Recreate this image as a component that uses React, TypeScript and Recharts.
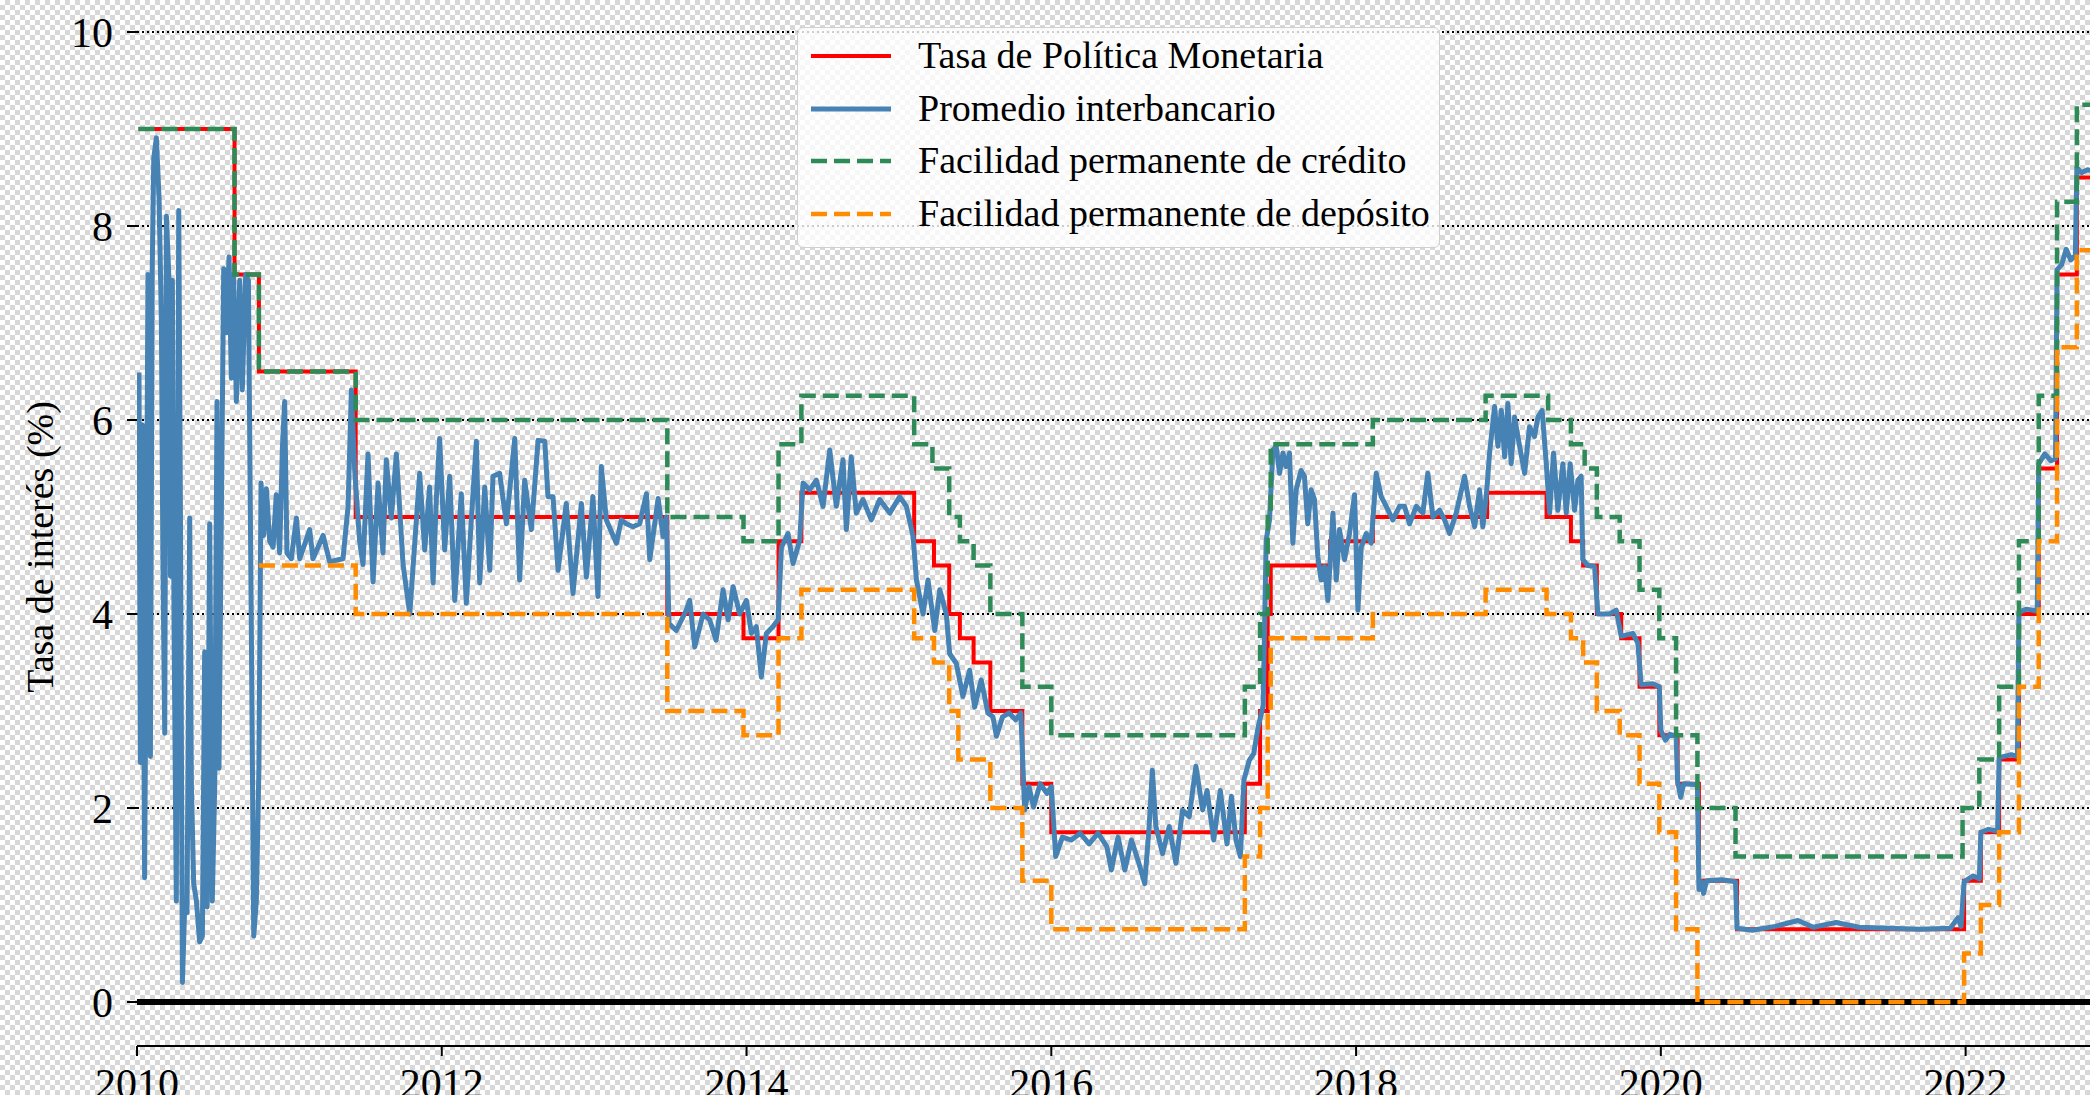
import { LineChart, Line, XAxis, YAxis, CartesianGrid, ReferenceLine } from "recharts";

// Tasa de Política Monetaria (step changes, decimal year)
const tpmDates = [2010.01, 2010.64, 2010.8, 2011.435, 2013.48, 2013.98, 2014.21, 2014.36, 2015.1, 2015.23, 2015.33, 2015.4, 2015.49, 2015.6, 2015.81, 2016.0, 2017.27, 2017.37, 2017.42, 2017.44, 2017.83, 2018.11, 2018.86, 2019.25, 2019.41, 2019.49, 2019.58, 2019.74, 2019.86, 2019.99, 2020.11, 2020.25, 2020.5, 2021.99, 2022.1, 2022.22, 2022.35, 2022.48, 2022.6, 2022.73, 2022.95];
const tpmValues = [9, 7.5, 6.5, 5, 4, 3.75, 4.75, 5.25, 4.75, 4.5, 4, 3.75, 3.5, 3, 2.25, 1.75, 2.25, 3, 4, 4.5, 4.75, 5, 5.25, 5, 4.75, 4.5, 4, 3.75, 3.25, 2.75, 2.25, 1.25, 0.75, 1.25, 1.75, 2.5, 4, 5.5, 7.5, 8.5, 8.5];

// Facilidad permanente de crédito
const creditDates = [2010.01, 2010.64, 2010.8, 2011.435, 2013.48, 2013.98, 2014.21, 2014.36, 2015.1, 2015.22, 2015.33, 2015.4, 2015.49, 2015.6, 2015.81, 2016.0, 2017.27, 2017.37, 2017.42, 2017.44, 2018.11, 2018.85, 2019.26, 2019.41, 2019.5, 2019.58, 2019.73, 2019.86, 2019.99, 2020.1, 2020.24, 2020.49, 2021.98, 2022.09, 2022.22, 2022.35, 2022.48, 2022.6, 2022.73, 2022.95];
const creditValues = [9, 7.5, 6.5, 6, 5, 4.75, 5.75, 6.25, 5.75, 5.5, 5, 4.75, 4.5, 4, 3.25, 2.75, 3.25, 4, 5, 5.75, 6, 6.25, 6, 5.75, 5.5, 5, 4.75, 4.25, 3.75, 2.75, 2, 1.5, 2, 2.5, 3.25, 4.75, 6.25, 8.25, 9.25, 9.25];

// Facilidad permanente de depósito
const depositDates = [2010.8, 2011.435, 2013.48, 2013.98, 2014.21, 2014.36, 2015.1, 2015.23, 2015.33, 2015.39, 2015.6, 2015.81, 2016.0, 2017.27, 2017.37, 2017.42, 2017.44, 2018.11, 2018.85, 2019.25, 2019.41, 2019.49, 2019.58, 2019.73, 2019.86, 2019.99, 2020.1, 2020.24, 2021.99, 2022.1, 2022.22, 2022.35, 2022.48, 2022.6, 2022.73, 2022.95];
const depositValues = [4.5, 4, 3, 2.75, 3.75, 4.25, 3.75, 3.5, 3, 2.5, 2, 1.25, 0.75, 1.5, 2, 3, 3.75, 4, 4.25, 4, 3.75, 3.5, 3, 2.75, 2.25, 1.75, 0.75, 0, 0.5, 1, 1.75, 3.25, 4.75, 6.75, 7.75, 7.75];

// Promedio interbancario
const interbank2010: [number, number][] = [
  [2010.013, 6.49], [2010.022, 2.47], [2010.035, 5.95], [2010.05, 1.28], [2010.06, 3.91], [2010.072, 7.5], [2010.088, 2.53], [2010.1, 7.56], [2010.11, 8.7], [2010.127, 8.91], [2010.145, 8.28], [2010.16, 7.02], [2010.17, 4.57], [2010.182, 2.77], [2010.193, 8.1], [2010.21, 7.44], [2010.22, 4.39], [2010.232, 7.44], [2010.243, 3.91], [2010.258, 1.04], [2010.274, 8.16], [2010.285, 5.05], [2010.298, 0.2], [2010.313, 0.98], [2010.328, 0.92], [2010.346, 4.99], [2010.357, 2.23], [2010.372, 1.22], [2010.39, 1.04], [2010.411, 0.62], [2010.429, 0.68], [2010.444, 3.61], [2010.46, 0.98], [2010.477, 4.93], [2010.494, 1.04], [2010.51, 2.23], [2010.525, 6.19], [2010.538, 2.41], [2010.554, 5.11], [2010.569, 7.56], [2010.586, 6.9], [2010.604, 7.68], [2010.619, 6.43], [2010.634, 7.5], [2010.652, 6.19], [2010.674, 7.44], [2010.691, 6.31], [2010.713, 7.5], [2010.731, 7.44], [2010.75, 3.91], [2010.766, 0.68], [2010.783, 1.04], [2010.8, 2.41], [2010.814, 5.35], [2010.831, 4.81], [2010.849, 5.29], [2010.871, 4.75], [2010.893, 4.69], [2010.914, 5.23], [2010.936, 4.63], [2010.954, 5.71], [2010.969, 6.19], [2010.984, 4.63],
  [2011.013, 4.57], [2011.046, 4.99], [2011.068, 4.57], [2011.133, 4.87], [2011.155, 4.57], [2011.221, 4.81], [2011.264, 4.54], [2011.352, 4.57], [2011.385, 5.11], [2011.407, 6.31], [2011.429, 5.47], [2011.461, 4.75], [2011.483, 4.51], [2011.516, 5.65], [2011.549, 4.33], [2011.582, 5.35], [2011.614, 4.63], [2011.636, 5.59], [2011.669, 4.99], [2011.702, 5.65], [2011.746, 4.51],
];
const interbank2012: [number, number][] = [
  [2011.79, 4.0], [2011.81, 4.45], [2011.855, 5.45], [2011.888, 4.66], [2011.92, 5.31], [2011.943, 4.32], [2011.965, 5.21], [2011.986, 5.81], [2012.019, 4.66], [2012.052, 5.42], [2012.085, 4.14], [2012.128, 5.24], [2012.161, 4.11], [2012.194, 4.97], [2012.227, 5.78], [2012.249, 4.32], [2012.282, 5.31], [2012.315, 4.45], [2012.336, 5.42], [2012.38, 5.45], [2012.424, 4.93], [2012.479, 5.81], [2012.511, 4.35], [2012.544, 5.38], [2012.588, 4.87], [2012.632, 5.79], [2012.676, 5.78], [2012.697, 5.21], [2012.73, 5.21], [2012.763, 4.45], [2012.817, 5.14], [2012.861, 4.21], [2012.916, 5.14], [2012.949, 4.38], [2012.992, 5.21],
  [2013.025, 4.18], [2013.047, 5.52], [2013.08, 4.97], [2013.146, 4.73], [2013.178, 4.97], [2013.211, 4.93], [2013.255, 4.9], [2013.299, 4.93], [2013.343, 5.24], [2013.365, 4.56], [2013.42, 5.19], [2013.452, 4.8], [2013.474, 5.0], [2013.491, 3.9], [2013.539, 3.83], [2013.605, 4.04],
];
const interbank2014: [number, number][] = [
  [2013.627, 4.14], [2013.66, 3.66], [2013.715, 4.0], [2013.758, 3.94], [2013.8, 3.73], [2013.846, 4.25], [2013.879, 3.94], [2013.912, 4.28], [2013.955, 4.0], [2013.999, 4.14], [2014.032, 3.8], [2014.064, 3.87], [2014.097, 3.35], [2014.13, 3.8], [2014.174, 3.87], [2014.207, 3.94], [2014.229, 4.69], [2014.272, 4.83], [2014.305, 4.52], [2014.349, 4.76], [2014.371, 5.35], [2014.414, 5.28], [2014.458, 5.38], [2014.502, 5.11], [2014.546, 5.69], [2014.589, 5.11], [2014.633, 5.59], [2014.655, 4.87], [2014.687, 5.62], [2014.72, 5.04], [2014.764, 5.18], [2014.819, 4.97], [2014.874, 5.18], [2014.94, 5.04],
  [2015.005, 5.21], [2015.049, 5.11], [2015.093, 4.8], [2015.115, 4.35], [2015.158, 4.0], [2015.191, 4.35], [2015.235, 3.83], [2015.268, 4.25], [2015.311, 4.0], [2015.333, 3.59], [2015.377, 3.49], [2015.42, 3.15], [2015.464, 3.42], [2015.497, 3.04], [2015.54, 3.32], [2015.584, 2.98], [2015.617, 2.94],
];
const interbank2016: [number, number][] = [
  [2015.64, 2.74], [2015.68, 2.94], [2015.723, 2.98], [2015.766, 2.91], [2015.8, 2.98], [2015.825, 1.98], [2015.854, 2.22], [2015.883, 2.01], [2015.927, 2.25], [2015.971, 2.15], [2016.0, 2.22], [2016.029, 1.5], [2016.073, 1.7], [2016.131, 1.67], [2016.19, 1.74], [2016.248, 1.63], [2016.307, 1.74], [2016.365, 1.6], [2016.394, 1.36], [2016.438, 1.7], [2016.482, 1.36], [2016.526, 1.67], [2016.569, 1.46], [2016.613, 1.22], [2016.642, 1.81], [2016.663, 2.39], [2016.686, 1.81], [2016.73, 1.53], [2016.774, 1.81], [2016.818, 1.43], [2016.861, 1.98], [2016.905, 1.91], [2016.949, 2.43], [2016.993, 1.98],
  [2017.022, 2.18], [2017.066, 1.67], [2017.109, 2.18], [2017.153, 1.63], [2017.182, 2.12], [2017.212, 1.67], [2017.241, 1.5], [2017.264, 2.29], [2017.299, 2.49], [2017.328, 2.56], [2017.358, 2.84],
];
const interbank2018: [number, number][] = [
  [2017.39, 3.05], [2017.41, 4.76], [2017.432, 4.97], [2017.454, 5.69], [2017.476, 5.73], [2017.498, 5.45], [2017.52, 5.66], [2017.541, 5.52], [2017.563, 5.66], [2017.585, 4.73], [2017.607, 5.28], [2017.639, 5.48], [2017.661, 5.42], [2017.683, 4.93], [2017.705, 5.28], [2017.727, 5.18], [2017.749, 4.59], [2017.771, 4.35], [2017.793, 4.49], [2017.815, 4.14], [2017.848, 5.04], [2017.87, 4.35], [2017.891, 4.87], [2017.924, 4.56], [2017.957, 4.83], [2017.99, 5.23],
  [2018.012, 4.04], [2018.034, 4.69], [2018.067, 4.83], [2018.099, 4.73], [2018.132, 5.45], [2018.165, 5.21], [2018.198, 5.11], [2018.241, 4.97], [2018.285, 5.11], [2018.318, 5.11], [2018.351, 4.93], [2018.395, 5.11], [2018.438, 5.04], [2018.471, 5.45], [2018.504, 5.0], [2018.548, 5.07], [2018.581, 4.97], [2018.613, 4.83], [2018.657, 5.04], [2018.712, 5.42], [2018.745, 5.11], [2018.778, 4.9], [2018.81, 5.28], [2018.832, 4.9], [2018.858, 5.28], [2018.876, 5.66], [2018.909, 6.14], [2018.931, 5.73], [2018.953, 6.1], [2018.975, 5.62], [2018.996, 6.17],
  [2019.018, 5.55], [2019.04, 6.03], [2019.073, 5.73], [2019.106, 5.45], [2019.138, 5.93], [2019.171, 5.83], [2019.193, 6.03], [2019.221, 6.1], [2019.248, 5.55], [2019.27, 5.04], [2019.296, 5.66], [2019.324, 5.07], [2019.357, 5.55], [2019.379, 5.04], [2019.405, 5.55], [2019.434, 5.07], [2019.456, 5.38], [2019.477, 5.42], [2019.488, 4.56], [2019.521, 4.5], [2019.565, 4.49], [2019.587, 4.0], [2019.664, 4.0], [2019.707, 4.04], [2019.74, 3.77], [2019.816, 3.8], [2019.849, 3.7], [2019.871, 3.27], [2019.948, 3.28], [2019.99, 3.25],
];
const interbank2020: [number, number][] = [
  [2020.0, 2.8], [2020.03, 2.7], [2020.06, 2.76], [2020.1, 2.74], [2020.11, 2.28], [2020.13, 2.11], [2020.15, 2.25], [2020.24, 2.24], [2020.25, 1.16], [2020.27, 1.24], [2020.28, 1.12], [2020.3, 1.25], [2020.4, 1.26], [2020.49, 1.24], [2020.5, 0.76], [2020.6, 0.74], [2020.75, 0.78], [2020.9, 0.84],
  [2021.0, 0.77], [2021.15, 0.82], [2021.3, 0.77], [2021.5, 0.76], [2021.7, 0.75], [2021.9, 0.76], [2021.95, 0.87], [2021.97, 0.78], [2021.99, 1.24],
  [2022.05, 1.3], [2022.09, 1.27], [2022.1, 1.75], [2022.15, 1.78], [2022.21, 1.76], [2022.22, 2.52], [2022.3, 2.55], [2022.34, 2.53], [2022.35, 4.02], [2022.4, 4.05], [2022.47, 4.03], [2022.48, 5.55], [2022.52, 5.65], [2022.56, 5.58], [2022.59, 5.6], [2022.6, 7.55], [2022.63, 7.6], [2022.66, 7.76], [2022.69, 7.65], [2022.72, 7.7], [2022.73, 8.6], [2022.76, 8.55], [2022.8, 8.58], [2022.9, 8.55],
];

const yearTicks = [2010, 2012, 2014, 2016, 2018, 2020, 2022];
const rateTicks = [0, 2, 4, 6, 8, 10];

const steps = (dates: number[], values: number[]) => dates.map((t, i) => ({ t, v: values[i] }));
const tpmData = steps(tpmDates, tpmValues);
const creditData = steps(creditDates, creditValues);
const depositData = steps(depositDates, depositValues);
const interbankData = [...interbank2010, ...interbank2012, ...interbank2014, ...interbank2016, ...interbank2018, ...interbank2020].map(([t, v]) => ({ t, v }));

const FONT = '"Liberation Serif", "Times New Roman", serif';
const DASH = "16 7";

const legendItems = [
  { label: "Tasa de Política Monetaria", color: "#ff0000", dash: undefined, width: 4 },
  { label: "Promedio interbancario", color: "#4682b4", dash: undefined, width: 5 },
  { label: "Facilidad permanente de crédito", color: "#2e8b57", dash: DASH, width: 4.5 },
  { label: "Facilidad permanente de depósito", color: "#ff8c00", dash: DASH, width: 4.5 },
];

export default function App() {
  return (
    <div
      style={{
        position: "absolute",
        left: 0,
        top: 0,
        width: 2090,
        height: 1095,
        overflow: "hidden",
        background: "repeating-conic-gradient(#d8d8d8 0% 25%, #ffffff 0% 50%) 0 0 / 10px 10px",
        fontFamily: FONT,
      }}
    >
      <LineChart width={2118} height={1120} margin={{ top: 32, right: 0, bottom: 0, left: 0 }}>
        <CartesianGrid horizontal vertical={false} stroke="#000" strokeWidth={2} strokeDasharray="2 3" />
        <XAxis
          type="number"
          dataKey="t"
          domain={[2010, 2023]}
          ticks={yearTicks}
          allowDataOverflow
          height={74}
          axisLine={{ stroke: "#000", strokeWidth: 2 }}
          tickLine={{ stroke: "#000", strokeWidth: 2 }}
          tickSize={10}
          tickMargin={12}
          tick={{ fontSize: 42, fill: "#000", fontFamily: FONT }}
        />
        <YAxis
          type="number"
          domain={[-0.4536, 10]}
          ticks={rateTicks}
          allowDataOverflow
          width={137}
          axisLine={false}
          tickLine={{ stroke: "#000", strokeWidth: 2 }}
          tickSize={10}
          tickMargin={14}
          tick={{ fontSize: 42, fill: "#000", fontFamily: FONT }}
        />
        <ReferenceLine y={0} stroke="#000" strokeWidth={6} />
        <Line data={tpmData} dataKey="v" type="stepAfter" stroke="#ff0000" strokeWidth={4} dot={false} activeDot={false} isAnimationActive={false} />
        <Line data={interbankData} dataKey="v" type="linear" stroke="#4682b4" strokeWidth={5} strokeLinejoin="round" dot={false} activeDot={false} isAnimationActive={false} />
        <Line data={creditData} dataKey="v" type="stepAfter" stroke="#2e8b57" strokeWidth={4.5} strokeDasharray={DASH} dot={false} activeDot={false} isAnimationActive={false} />
        <Line data={depositData} dataKey="v" type="stepAfter" stroke="#ff8c00" strokeWidth={4.5} strokeDasharray={DASH} dot={false} activeDot={false} isAnimationActive={false} />
      </LineChart>

      <div
        style={{
          position: "absolute",
          left: 40,
          top: 547,
          transform: "translate(-50%, -50%) rotate(-90deg)",
          fontSize: 38,
          whiteSpace: "nowrap",
          color: "#000",
        }}
      >
        Tasa de interés (%)
      </div>

      <div
        style={{
          position: "absolute",
          left: 797,
          top: 27,
          width: 643,
          height: 221,
          boxSizing: "border-box",
          border: "1.5px solid #d0d0d0",
          borderRadius: 6,
          background: "rgba(255,255,255,0.8)",
        }}
      >
        {legendItems.map((item, i) => (
          <div key={item.label} style={{ position: "absolute", left: 0, top: 28 + i * 52.5, height: 0, width: "100%" }}>
            <svg width={82} height={10} style={{ position: "absolute", left: 12, top: -5 }}>
              <line x1={1} y1={5} x2={81} y2={5} stroke={item.color} strokeWidth={item.width} strokeDasharray={item.dash} />
            </svg>
            <span style={{ position: "absolute", left: 120, top: -24, fontSize: 38, lineHeight: "46px", whiteSpace: "nowrap", color: "#000" }}>
              {item.label}
            </span>
          </div>
        ))}
      </div>
    </div>
  );
}
